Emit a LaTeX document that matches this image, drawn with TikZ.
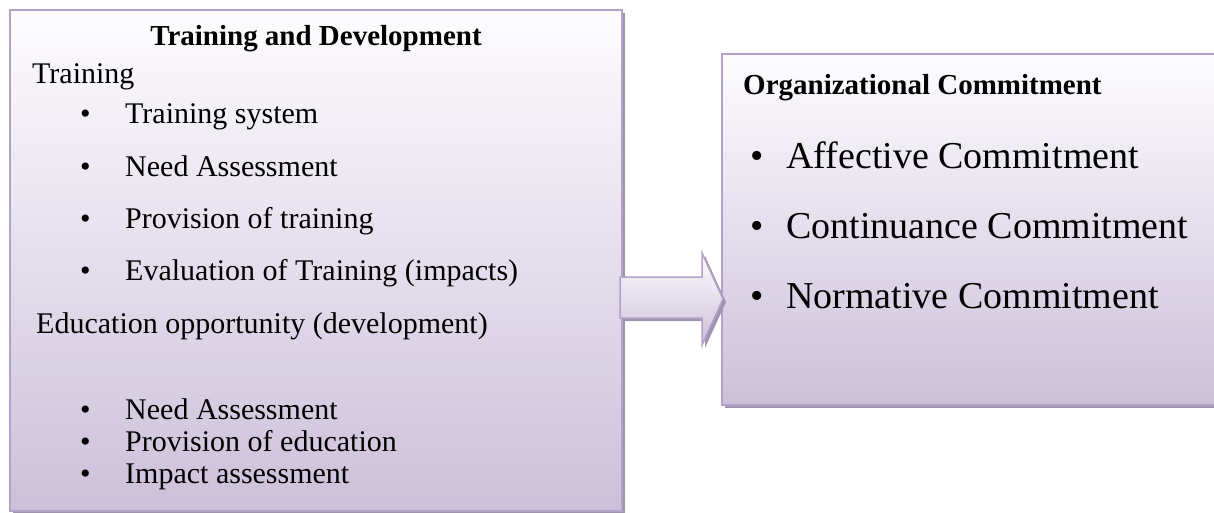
\documentclass[tikz,border=0pt]{standalone}
\usepackage{fontspec}
\setmainfont{Liberation Serif}
\definecolor{lavline}{HTML}{B3A2C7}
\definecolor{lavbot}{HTML}{CCC0DA}
\definecolor{lavtop}{HTML}{FDFCFE}
\definecolor{shadowc}{HTML}{9F93B0}
\begin{document}
\begin{tikzpicture}[x=1pt,y=-1pt,
  panel/.style={draw=lavline, line width=2.5pt, top color=lavtop, bottom color=lavbot},
  txt/.style={font=\fontsize{30}{36}\selectfont, inner sep=0pt, anchor=base west},
  big/.style={txt, font=\fontsize{38}{44}\selectfont},
  head/.style={txt, font=\fontsize{29}{35}\selectfont\bfseries}]
\useasboundingbox (0,0) rectangle (1214,513);
\clip (0,0) rectangle (1214,513);

% left panel: training and development
\fill[shadowc] (13,13) rectangle (625,514);
\shade[panel] (10,10) rectangle (622,511);

% right panel: organizational commitment
\fill[shadowc] (725,57) rectangle (1230,408);
\shade[panel] (722,54) rectangle (1228,405);

% block arrow between the panels
\fill[shadowc] (623,280) -- (705,280) -- (705,256) -- (726,302) -- (705,348) -- (705,321) -- (623,321) -- cycle;
\shade[draw=lavline, line width=1.5pt, top color=lavtop, bottom color=lavbot]
  (620,277) -- (702,277) -- (702,253) -- (723,299) -- (702,345) -- (702,318) -- (620,318) -- cycle;

% left panel text
\node[head, anchor=base] (t0) at (316,46) {Training and Development};
\node[txt] (t1) at (32,84) {Training};
\foreach \y/\s [count=\i] in {124/Training system, 176/Need Assessment, 228/Provision of training, 280/Evaluation of Training (impacts)}{
  \node[txt] (lb\i) at (80,\y) {•};
  \node[txt] (la\i) at (125,\y) {\s};
}
\node[txt] (t2) at (36,333) {Education opportunity (development)};
\foreach \y/\s [count=\i] in {419/Need Assessment, 451/Provision of education, 483/Impact assessment}{
  \node[txt] (mb\i) at (80,\y) {•};
  \node[txt] (ma\i) at (125,\y) {\s};
}

% right panel text
\node[head] (r0) at (743,95) {Organizational Commitment};
\foreach \y/\s [count=\i] in {168/Affective Commitment, 238/Continuance Commitment, 308/Normative Commitment}{
  \node[big] (rb\i) at (750,\y) {•};
  \node[big] (ra\i) at (786,\y) {\s};
}
\end{tikzpicture}
\end{document}
